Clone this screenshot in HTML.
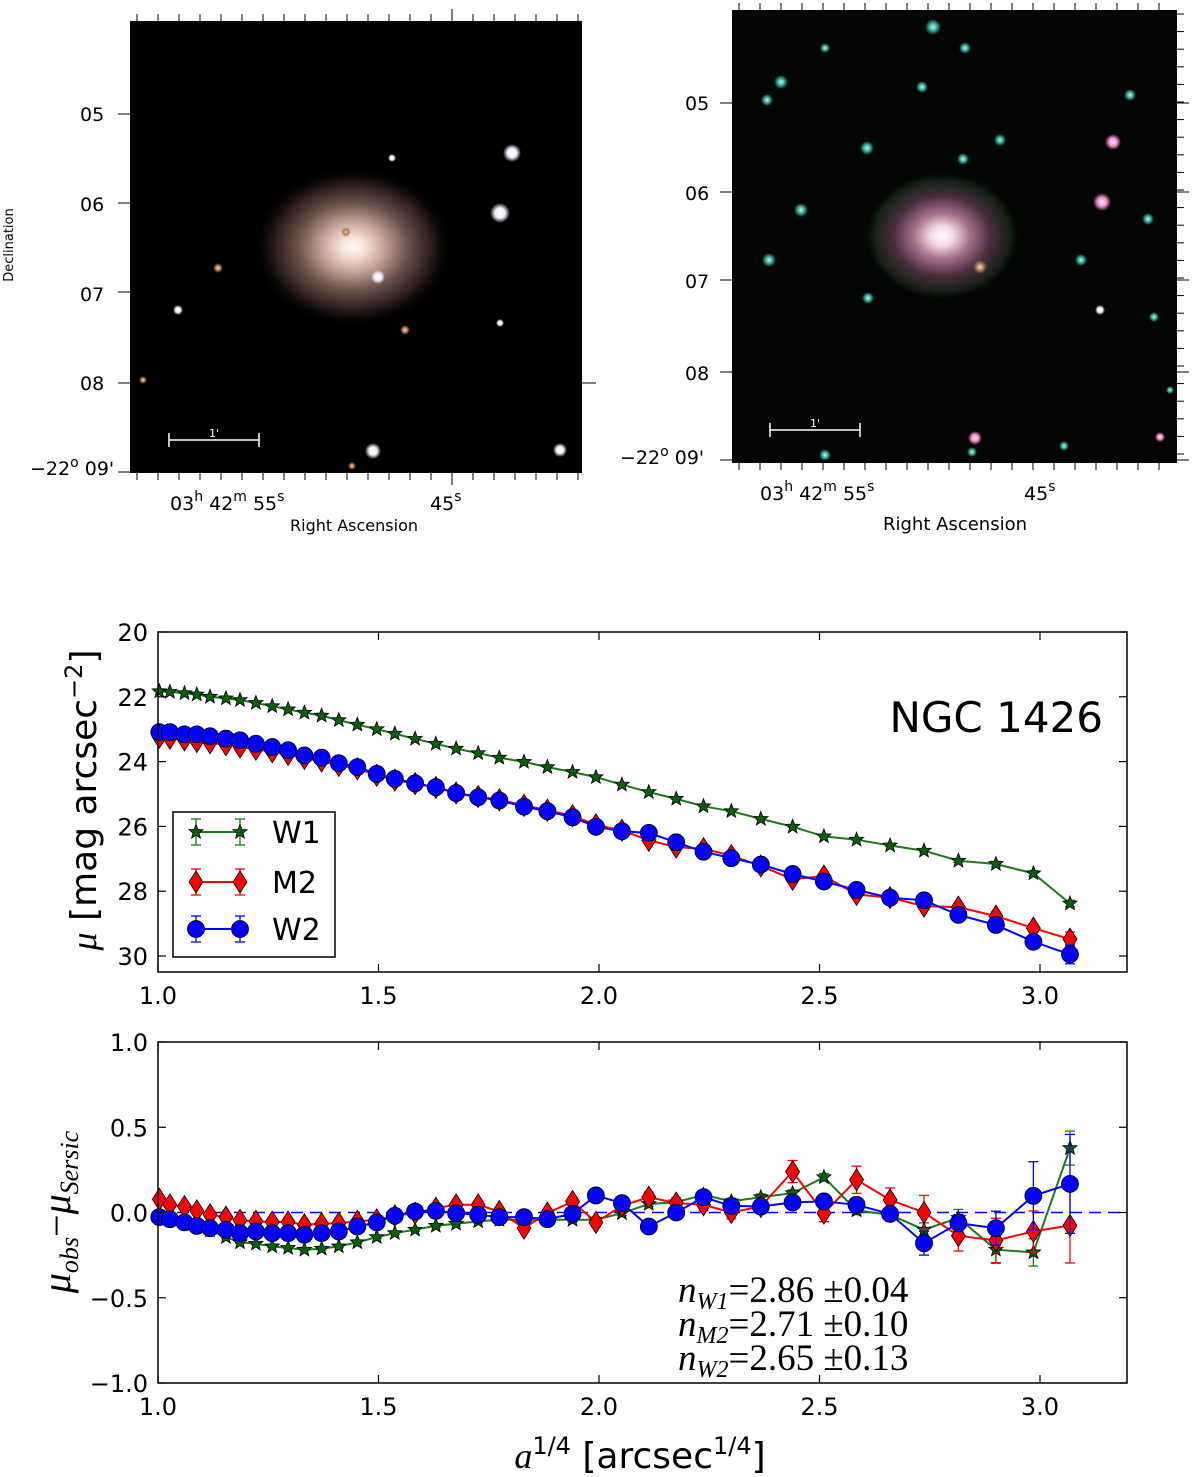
<!DOCTYPE html>
<html><head><meta charset="utf-8"><title>NGC 1426</title>
<style>
html,body{margin:0;padding:0;background:#fff;}
svg{display:block;}
.tk{font-family:"DejaVu Sans","Liberation Sans",sans-serif;font-size:24px;fill:#000;}
.ik{font-family:"DejaVu Sans","Liberation Sans",sans-serif;font-size:19px;fill:#000;}
</style></head>
<body>
<svg id="fig" width="1200" height="1477" viewBox="0 0 1200 1477" xmlns="http://www.w3.org/2000/svg">
<defs>
<radialGradient id="gal1" cx="50%" cy="50%" r="50%">
<stop offset="0" stop-color="#fffaf6"/><stop offset="0.12" stop-color="#f6e2d8"/><stop offset="0.3" stop-color="#c8a89e"/><stop offset="0.55" stop-color="#6a524c"/><stop offset="0.8" stop-color="#261a18"/><stop offset="1" stop-color="#000" stop-opacity="0"/></radialGradient>
<radialGradient id="gal2" cx="50%" cy="50%" r="50%">
<stop offset="0" stop-color="#fffcfc"/><stop offset="0.14" stop-color="#f6dce8"/><stop offset="0.35" stop-color="#a8708a"/><stop offset="0.6" stop-color="#4a3040"/><stop offset="0.85" stop-color="#142014"/><stop offset="1" stop-color="#000" stop-opacity="0"/></radialGradient>
<radialGradient id="starw"><stop offset="0" stop-color="#fff"/><stop offset="0.5" stop-color="#eef"/><stop offset="1" stop-color="#fff" stop-opacity="0"/></radialGradient>
<radialGradient id="starc"><stop offset="0" stop-color="#bfe"/><stop offset="0.5" stop-color="#3a9"/><stop offset="1" stop-color="#3a9" stop-opacity="0"/></radialGradient>
<radialGradient id="starp"><stop offset="0" stop-color="#fff"/><stop offset="0.5" stop-color="#f8c"/><stop offset="1" stop-color="#f8c" stop-opacity="0"/></radialGradient>
<radialGradient id="staro"><stop offset="0" stop-color="#fdb"/><stop offset="0.5" stop-color="#a75"/><stop offset="1" stop-color="#a75" stop-opacity="0"/></radialGradient>
</defs>

<!-- Left image -->
<g>
<rect x="130" y="21" width="452" height="452" fill="#000"/>
<ellipse cx="353" cy="247" rx="100" ry="80" fill="url(#gal1)"/>
<g id="lstars"></g>
<line x1="169" y1="440" x2="259" y2="440" stroke="#fff" stroke-width="1.5"/>
<line x1="169" y1="433" x2="169" y2="447" stroke="#fff" stroke-width="1.5"/>
<line x1="259" y1="433" x2="259" y2="447" stroke="#fff" stroke-width="1.5"/>
<text x="214" y="437" fill="#fff" font-family="DejaVu Sans,sans-serif" font-size="11" text-anchor="middle">1'</text>
<g id="lticks"></g>
<text class="ik" x="80" y="121">05</text>
<text class="ik" x="80" y="211">06</text>
<text class="ik" x="80" y="301">07</text>
<text class="ik" x="80" y="390">08</text>
<text class="ik" x="30" y="475">−22<tspan dy="-8" font-size="14">o</tspan><tspan dy="8"> 09'</tspan></text>
<text class="ik" x="170" y="510">03<tspan dy="-9" font-size="14">h</tspan><tspan dy="9"> 42</tspan><tspan dy="-9" font-size="14">m</tspan><tspan dy="9"> 55</tspan><tspan dy="-9" font-size="14">s</tspan></text>
<text class="ik" x="430" y="510">45<tspan dy="-9" font-size="14">s</tspan></text>
<text x="354" y="531" font-family="DejaVu Sans,sans-serif" font-size="16" text-anchor="middle">Right Ascension</text>
<text transform="translate(13,245) rotate(-90)" font-family="DejaVu Sans,sans-serif" font-size="13" text-anchor="middle">Declination</text>
</g>

<!-- Right image -->
<g>
<rect x="732" y="10" width="445" height="453" fill="#030603"/>
<ellipse cx="942" cy="236" rx="80" ry="66" fill="url(#gal2)"/>
<g id="rstars"></g>
<line x1="770" y1="430" x2="860" y2="430" stroke="#fff" stroke-width="1.5"/>
<line x1="770" y1="423" x2="770" y2="437" stroke="#fff" stroke-width="1.5"/>
<line x1="860" y1="423" x2="860" y2="437" stroke="#fff" stroke-width="1.5"/>
<text x="815" y="427" fill="#fff" font-family="DejaVu Sans,sans-serif" font-size="11" text-anchor="middle">1'</text>
<g id="rticks"></g>
<text class="ik" x="685" y="110">05</text>
<text class="ik" x="685" y="200">06</text>
<text class="ik" x="685" y="288">07</text>
<text class="ik" x="685" y="380">08</text>
<text class="ik" x="620" y="464">−22<tspan dy="-8" font-size="14">o</tspan><tspan dy="8"> 09'</tspan></text>
<text class="ik" x="760" y="500">03<tspan dy="-9" font-size="14">h</tspan><tspan dy="9"> 42</tspan><tspan dy="-9" font-size="14">m</tspan><tspan dy="9"> 55</tspan><tspan dy="-9" font-size="14">s</tspan></text>
<text class="ik" x="1024" y="500">45<tspan dy="-9" font-size="14">s</tspan></text>
<text x="955" y="530" font-family="DejaVu Sans,sans-serif" font-size="18" text-anchor="middle">Right Ascension</text>
</g>

<!-- Main profile plot -->
<g id="main">
<rect x="158" y="632" width="969" height="340" fill="#fff" stroke="none"/>
<g id="mainMarks"></g>
<rect x="158" y="632" width="969" height="340" fill="none" stroke="#000" stroke-width="1.5"/>
<g id="mainTicks"></g>
<text x="1103" y="732" text-anchor="end" font-family="DejaVu Sans,Liberation Sans,sans-serif" font-size="42">NGC 1426</text>
<text transform="translate(96,800) rotate(-90)" text-anchor="middle" font-family="DejaVu Sans,Liberation Sans,sans-serif" font-size="36"><tspan font-family="Liberation Serif,serif" font-style="italic">μ</tspan> [mag arcsec<tspan dy="-14" font-size="24">−2</tspan><tspan dy="14">]</tspan></text>
<g>
<rect x="173" y="812" width="162" height="145" fill="#fff" stroke="#000" stroke-width="1.5"/>
<g id="legendItems"></g>
</g>
</g>

<!-- Residual plot -->
<g id="resid">
<g id="resMarks"></g>
<rect x="158" y="1042" width="969" height="341" fill="none" stroke="#000" stroke-width="1.5"/>
<g id="resTicks"></g>
<text transform="translate(70,1212) rotate(-90)" text-anchor="middle" font-family="Liberation Serif,serif" font-size="40" font-style="italic">μ<tspan dy="8" font-size="26">obs</tspan><tspan dy="-8" font-style="normal">−</tspan>μ<tspan dy="8" font-size="26">Sersic</tspan></text>
<g font-family="Liberation Serif,serif" font-size="37">
<text x="678" y="1302"><tspan font-style="italic">n</tspan><tspan dy="7" font-size="24" font-style="italic">W1</tspan><tspan dy="-7">=2.86 ±0.04</tspan></text>
<text x="678" y="1336"><tspan font-style="italic">n</tspan><tspan dy="7" font-size="24" font-style="italic">M2</tspan><tspan dy="-7">=2.71 ±0.10</tspan></text>
<text x="678" y="1370"><tspan font-style="italic">n</tspan><tspan dy="7" font-size="24" font-style="italic">W2</tspan><tspan dy="-7">=2.65 ±0.13</tspan></text>
</g>
<text x="640" y="1468" text-anchor="middle" font-family="DejaVu Sans,Liberation Sans,sans-serif" font-size="36"><tspan font-family="Liberation Serif,serif" font-style="italic">a</tspan><tspan dy="-14" font-size="24">1/4</tspan><tspan dy="14">  [arcsec</tspan><tspan dy="-14" font-size="24">1/4</tspan><tspan dy="14">]</tspan></text>
</g>
</svg>

<script>
// ---- data ----
const radius = [1.003,1.027,1.060,1.088,1.118,1.154,1.186,1.222,1.259,1.295,1.332,1.371,1.410,1.452,1.496,1.537,1.583,1.630,1.676,1.726,1.774,1.830,1.883,1.940,1.993,2.052,2.113,2.175,2.237,2.300,2.367,2.439,2.510,2.584,2.660,2.737,2.815,2.900,2.985,3.068];
const muW1 = [21.83,21.85,21.89,21.93,22.0,22.05,22.1,22.19,22.29,22.39,22.49,22.58,22.72,22.86,23.0,23.14,23.3,23.45,23.6,23.74,23.88,24.01,24.17,24.32,24.48,24.71,24.94,25.15,25.38,25.53,25.77,26.01,26.31,26.41,26.59,26.75,27.06,27.16,27.45,28.38];
const muM2 = [23.25,23.28,23.33,23.38,23.42,23.48,23.55,23.62,23.7,23.78,23.9,23.98,24.12,24.22,24.42,24.57,24.68,24.8,24.97,25.08,25.18,25.35,25.5,25.67,25.95,26.12,26.43,26.64,26.69,26.9,27.22,27.63,27.53,28.1,28.2,28.46,28.49,28.77,29.14,29.48];
const muW2 = [23.09,23.09,23.16,23.16,23.22,23.29,23.34,23.45,23.55,23.65,23.81,23.88,24.05,24.17,24.38,24.53,24.67,24.79,24.97,25.1,25.2,25.39,25.53,25.72,26.01,26.15,26.2,26.49,26.78,26.98,27.18,27.47,27.7,27.96,28.2,28.28,28.73,29.04,29.56,29.95];
const resW1 = [-0.023,-0.043,-0.062,-0.082,-0.105,-0.144,-0.175,-0.183,-0.199,-0.208,-0.218,-0.212,-0.199,-0.175,-0.144,-0.121,-0.101,-0.078,-0.066,-0.052,-0.043,-0.043,-0.043,-0.043,-0.043,-0.004,0.05,0.06,0.104,0.065,0.09,0.113,0.207,0.012,-0.013,-0.101,-0.032,-0.218,-0.234,0.378];
const resM2 = [0.078,0.045,0.035,0.01,-0.013,-0.027,-0.046,-0.052,-0.056,-0.056,-0.072,-0.066,-0.062,-0.052,-0.043,-0.019,-0.004,0.025,0.045,0.045,0.006,-0.092,-0.004,0.065,-0.058,0.039,0.09,0.055,0.045,0.0,0.035,0.24,-0.004,0.192,0.074,0.0,-0.136,-0.164,-0.111,-0.076];
const resW2 = [-0.027,-0.039,-0.058,-0.078,-0.092,-0.101,-0.121,-0.111,-0.121,-0.121,-0.13,-0.121,-0.111,-0.082,-0.058,-0.019,0.006,0.01,-0.004,-0.013,-0.027,-0.027,-0.039,-0.008,0.1,0.055,-0.082,0.0,0.09,0.039,0.035,0.059,0.065,0.045,-0.008,-0.18,-0.062,-0.092,0.098,0.168];
const errW1 = [0.005,0.005,0.005,0.005,0.005,0.005,0.006,0.006,0.006,0.006,0.007,0.007,0.007,0.008,0.008,0.008,0.009,0.009,0.01,0.01,0.01,0.011,0.012,0.012,0.013,0.014,0.015,0.016,0.017,0.018,0.019,0.02,0.022,0.025,0.03,0.04,0.05,0.08,0.08,0.1];
const errM2 = [0.01,0.01,0.01,0.01,0.01,0.01,0.01,0.01,0.012,0.012,0.012,0.013,0.013,0.014,0.015,0.015,0.016,0.017,0.018,0.019,0.02,0.021,0.022,0.023,0.025,0.027,0.03,0.032,0.035,0.038,0.04,0.065,0.05,0.08,0.07,0.1,0.09,0.13,0.12,0.22];
const errW2 = [0.005,0.005,0.005,0.005,0.005,0.005,0.006,0.006,0.006,0.006,0.007,0.007,0.007,0.008,0.008,0.008,0.009,0.009,0.01,0.01,0.01,0.011,0.012,0.012,0.013,0.014,0.015,0.016,0.018,0.02,0.022,0.025,0.03,0.035,0.04,0.07,0.05,0.1,0.2,0.29];
const muTicks = [20,22,24,26,28,30];
const resTicks = [1.0,0.5,0.0,-0.5,-1.0];
const resTickLabels = ["1.0","0.5","0.0","−0.5","−1.0"];
const xTicks = [1.0,1.5,2.0,2.5,3.0];
const xTickLabels = ["1.0","1.5","2.0","2.5","3.0"];
const seriesNames = ["W1","M2","W2"];
const seriesColors = ["#1a7a1a","#ff0000","#0000ff"];
const markerFills = ["#0a600a","#ff0000","#0000ff"];

// ---- axes ----
const X = v => 158 + (v - 1.0) * 441;
const Ymu = m => 632 + (m - 20) * 32.4;
const Yres = r => 1212.5 - r * 170.5;
const NS = "http://www.w3.org/2000/svg";
function mk(tag, attrs, parent){const e=document.createElementNS(NS,tag);for(const k in attrs)e.setAttribute(k,attrs[k]);parent.appendChild(e);return e;}

function marker(kind, cx, cy, parent, fill){
  let e;
  if(kind==="W1"){
    let p=[];for(let i=0;i<10;i++){const r=i%2?3.2:7.5;const a=-Math.PI/2+i*Math.PI/5;p.push((cx+r*Math.cos(a)).toFixed(1)+","+(cy+r*Math.sin(a)).toFixed(1));}
    e=mk("polygon",{points:p.join(" "),fill:fill,stroke:"#000","stroke-width":0.8},parent);
  } else if(kind==="M2"){
    e=mk("polygon",{points:`${cx},${cy-11} ${cx+7},${cy} ${cx},${cy+11} ${cx-7},${cy}`,fill:fill,stroke:"#000","stroke-width":0.8},parent);
  } else {
    e=mk("circle",{cx:cx,cy:cy,r:8.5,fill:fill,stroke:"#000","stroke-width":0.8},parent);
  }
  return e;
}

function drawSeries(parent, ys, errs, Yf, idx){
  const name=seriesNames[idx], col=seriesColors[idx];
  const g=mk("g",{},parent);
  
  
  for(let i=0;i<radius.length;i++){
    const x=X(radius[i]), y1=Yf(ys[i]-errs[i]), y2=Yf(ys[i]+errs[i]);
    mk("line",{x1:x,y1:y1,x2:x,y2:y2,stroke:col,"stroke-width":1.3},g);
    mk("line",{x1:x-5,y1:y1,x2:x+5,y2:y1,stroke:col,"stroke-width":1.3},g);
    mk("line",{x1:x-5,y1:y2,x2:x+5,y2:y2,stroke:col,"stroke-width":1.3},g);
  }
  const pts=radius.map((r,i)=>X(r).toFixed(1)+","+Yf(ys[i]).toFixed(1)).join(" ");
  const pl=mk("polyline",{points:pts,fill:"none",stroke:col,"stroke-width":2},g);
  
  
  for(let i=0;i<radius.length;i++){
    const m=marker(name,X(radius[i]),Yf(ys[i]),g,markerFills[idx]);
    
    
  }
}

const mm=document.getElementById("mainMarks");
drawSeries(mm, muW1, errW1, Ymu, 0);
drawSeries(mm, muM2, errM2, Ymu, 1);
drawSeries(mm, muW2, errW2, Ymu, 2);

const rm=document.getElementById("resMarks");
const zl=mk("line",{x1:158,y1:Yres(0),x2:1127,y2:Yres(0),stroke:"#0000ff","stroke-width":1.5,"stroke-dasharray":"12,7"},rm);


drawSeries(rm, resW1, errW1, Yres, 0);
drawSeries(rm, resM2, errM2, Yres, 1);
drawSeries(rm, resW2, errW2, Yres, 2);

function axisTicks(gid, top, bottom, yVals, yLabels, Yf){
  const g=document.getElementById(gid);
  xTicks.forEach((v,i)=>{
    const x=X(v);
    mk("line",{x1:x,y1:bottom,x2:x,y2:bottom-8,stroke:"#000","stroke-width":1.2},g);
    mk("line",{x1:x,y1:top,x2:x,y2:top+8,stroke:"#000","stroke-width":1.2},g);
    const t=mk("text",{x:x,y:bottom+32,"text-anchor":"middle",class:"tk"},g);
    t.textContent=xTickLabels[i];
    
    
  });
  yVals.forEach((v,i)=>{
    const y=Yf(v);
    mk("line",{x1:158,y1:y,x2:166,y2:y,stroke:"#000","stroke-width":1.2},g);
    mk("line",{x1:1127,y1:y,x2:1119,y2:y,stroke:"#000","stroke-width":1.2},g);
    const t=mk("text",{x:148,y:y+9,"text-anchor":"end",class:"tk"},g);
    t.textContent=yLabels[i];
    
    
  });
}
axisTicks("mainTicks",632,972,muTicks,muTicks.map(String),Ymu);
axisTicks("resTicks",1042,1383,resTicks,resTickLabels,Yres);

const lg=document.getElementById("legendItems");
[832,882,929].forEach((y,i)=>{
  const g=mk("g",{},lg);
  
  
  const col=seriesColors[i];
  mk("line",{x1:196,y1:y,x2:240,y2:y,stroke:col,"stroke-width":2},g);
  [196,240].forEach(x=>{
    mk("line",{x1:x,y1:y-13,x2:x,y2:y+13,stroke:col,"stroke-width":1.3},g);
    mk("line",{x1:x-5,y1:y-13,x2:x+5,y2:y-13,stroke:col,"stroke-width":1.3},g);
    mk("line",{x1:x-5,y1:y+13,x2:x+5,y2:y+13,stroke:col,"stroke-width":1.3},g);
    marker(seriesNames[i],x,y,g,markerFills[i]);
  });
  const t=mk("text",{x:272,y:y+11,"font-family":"DejaVu Sans,Liberation Sans,sans-serif","font-size":30},g);
  t.textContent=seriesNames[i];
});

function imgTicks(gid, x0, x1, y0, y1, majX, decY, rightTicks){
  const g=document.getElementById(gid);
  for(let x=x0+7;x<x1;x+=21){
    const maj = majX.some(m=>Math.abs(m-x)<6);
    const L = maj?12:7;
    mk("line",{x1:x,y1:y0,x2:x,y2:y0-L,stroke:"#000","stroke-width":1},g);
    mk("line",{x1:x,y1:y1,x2:x,y2:y1+L,stroke:"#000","stroke-width":1},g);
  }
  decY.forEach(y=>{
    mk("line",{x1:x0-12,y1:y,x2:x0,y2:y,stroke:"#000","stroke-width":1},g);
    if(rightTicks) mk("line",{x1:x1,y1:y,x2:x1+12,y2:y,stroke:"#000","stroke-width":1},g);
  });
}
imgTicks("lticks",130,582,21,473,[235,340,447,551],[114,203,292,383,472],false);
mk("line",{x1:582,y1:383,x2:596,y2:383,stroke:"#000","stroke-width":1},document.getElementById("lticks"));
imgTicks("rticks",732,1177,10,463,[836,941,1047,1151],[103,192,280,372,460],true);
(function(){const g=document.getElementById("rticks");for(let y=14;y<463;y+=17.6){mk("line",{x1:1177,y1:y,x2:1184,y2:y,stroke:"#000","stroke-width":1},g);mk("line",{x1:732,y1:y,x2:739,y2:y,stroke:"#000","stroke-width":1},g);}})();

function stars(gid, list){
  const g=document.getElementById(gid);
  list.forEach(s=>mk("circle",{cx:s[0],cy:s[1],r:s[2],fill:"url(#"+s[3]+")"},g));
}
stars("lstars",[[512,153,9,"starw"],[500,213,10,"starw"],[378,277,7,"starw"],[178,310,5,"starw"],[218,268,5,"staro"],[405,330,5,"staro"],[500,323,4,"starw"],[373,451,8,"starw"],[560,450,7,"starw"],[143,380,4,"staro"],[392,158,4,"starw"],[346,232,5,"staro"],[352,466,4,"staro"]]);
stars("rstars",[[1113,142,8,"starp"],[1102,202,9,"starp"],[980,267,7,"staro"],[975,438,7,"starp"],[1160,437,5,"starp"],[933,27,8,"starc"],[965,48,6,"starc"],[781,82,7,"starc"],[922,87,6,"starc"],[963,159,6,"starc"],[867,148,7,"starc"],[1130,95,6,"starc"],[801,210,7,"starc"],[769,260,7,"starc"],[1081,260,6,"starc"],[1148,219,6,"starc"],[1154,317,5,"starc"],[1100,310,5,"starw"],[767,100,6,"starc"],[825,48,5,"starc"],[1000,140,6,"starc"],[868,298,6,"starc"],[825,455,6,"starc"],[972,452,5,"starc"],[1064,446,5,"starc"],[1170,390,4,"starc"]]);
</script>
</body></html>
